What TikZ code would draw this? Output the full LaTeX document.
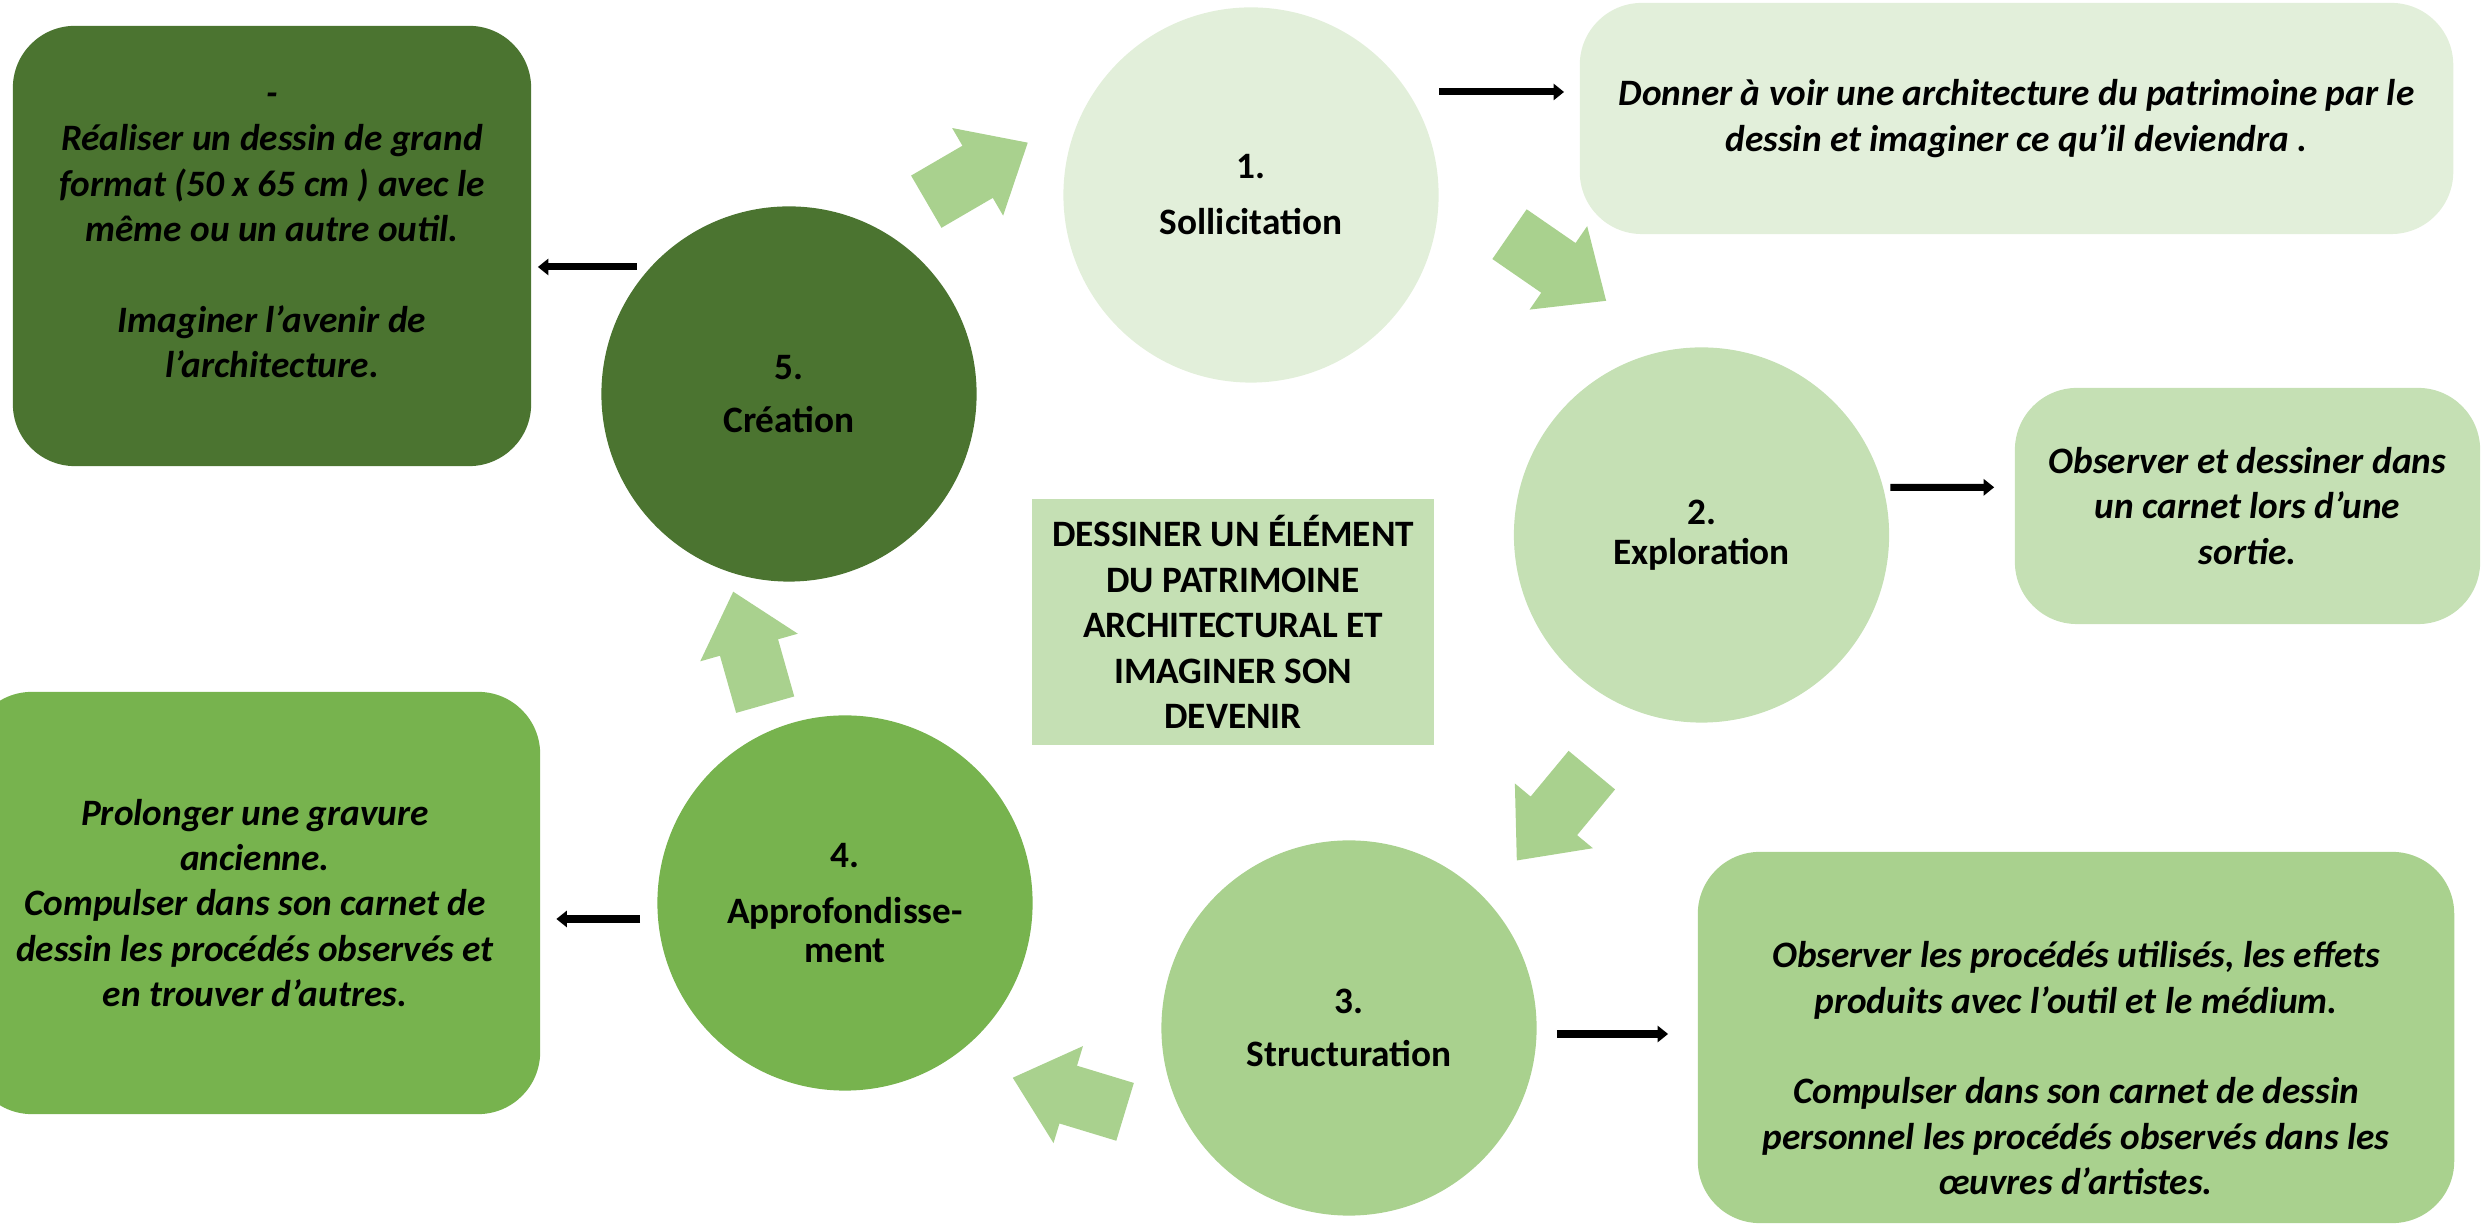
\documentclass[tikz,border=0pt]{standalone}
\usepackage{fontspec}
\setmainfont{Carlito}
\usepackage{tikz}
\usetikzlibrary{arrows.meta}
\definecolor{stepOne}{RGB}{226,239,218}
\definecolor{stepTwo}{RGB}{197,224,180}
\definecolor{stepThree}{RGB}{169,209,142}
\definecolor{stepFour}{RGB}{119,179,78}
\definecolor{stepFive}{RGB}{75,116,48}

\begin{document}
\begin{tikzpicture}[x=0.01cm, y=0.01cm,
        font=\fontsize{10.6}{12.9}\selectfont\bfseries]
        \tikzstyle{stepStyle} = [circle, minimum size=3.75cm, inner sep=0pt, align=center]
        \tikzstyle{boxStyle} = [rectangle, rounded corners=0.62cm, inner sep=0pt, align=center,
            font=\fontsize{10.6}{12.9}\selectfont\bfseries\itshape]
        \tikzstyle{flowArrow} = [fill=stepThree]
        \tikzstyle{blackEdge} = [draw=black, line width=2pt, -{Triangle[length=3pt,width=4.6pt]}]
        \useasboundingbox (0,0) rectangle (2483,1225);

        \node[stepStyle, fill=stepOne] (1) at (1251,1030) {1.\\[3pt] Sollicitation};
        \node[stepStyle, fill=stepTwo] (2) at (1701.5,690) {2.\\[-1.6pt] Exploration};
        \node[stepStyle, fill=stepThree] (3) at (1349,197) {3.\\[2.2pt] Structuration};
        \node[stepStyle, fill=stepFour] (4) at (845,322) {4.\\[3pt] Approfondisse-\\[-1.6pt] ment};
        \node[stepStyle, fill=stepFive] (5) at (789,831) {5.\\[2.4pt] Création};

        \node[boxStyle, fill=stepOne, minimum width=8.73cm, minimum height=2.31cm] (box1) at (2016.5,1106.5)
            {Donner à voir une architecture du patrimoine par le\\ dessin et imaginer ce qu’il deviendra .};
        \node[boxStyle, fill=stepTwo, minimum width=4.65cm, minimum height=2.36cm] (box2) at (2247.5,719)
            {Observer et dessiner dans\\ un carnet lors d’une\\ sortie.};
        \node[boxStyle, fill=stepThree, minimum width=7.56cm, minimum height=3.71cm] (box3) at (2076,187.5)
            {\strut\\[3pt] Observer les procédés utilisés, les effets\\ produits  avec l’outil et le médium.\\[12.9pt]
             Compulser dans son carnet de dessin\\ personnel les procédés observés dans les\\ œuvres d’artistes.};
        \node[boxStyle, fill=stepFour, minimum width=5.7cm, minimum height=4.22cm] (box4) at (255,322)
            {Prolonger une gravure\\ ancienne.\\ Compulser dans son carnet de\\ dessin les procédés observés  et\\ en trouver d’autres.};
        \node[boxStyle, fill=stepFive, minimum width=5.18cm, minimum height=4.4cm] (box5) at (272,979)
            {-\\ Réaliser un dessin de grand\\ format  (50 x 65 cm ) avec le\\ même ou un autre outil.\\[12.9pt]
             Imaginer l’avenir  de\\ l’architecture.\\[-6.8pt] \mbox{}};
        \node[fill=stepTwo, minimum width=4.02cm, minimum height=2.46cm, inner sep=0pt, align=center] (goal) at (1233,603)
            {DESSINER UN ÉLÉMENT\\ DU PATRIMOINE\\ ARCHITECTURAL ET\\ IMAGINER SON\\ DEVENIR};

        \foreach \x/\y/\a in {977/1052.8/30.2, 1557.8/957.5/-34.6, 1554.3/409.7/230.3,
                              1068.9/130.2/163.1, 749.2/576.8/105.8}
            \fill[flowArrow, shift={(\x,\y)}, rotate=\a] (-58.7,-30.2) -- (0.7,-30.2) -- (0.7,-50.7)
                -- (58.7,0) -- (0.7,50.7) -- (0.7,30.2) -- (-58.7,30.2) -- cycle;

        \draw[blackEdge] ([shift={(0,103)}]1.east) -- ([shift={(-15,26.5)}]box1.west);
        \draw[blackEdge] ([shift={(0.5,47.5)}]2.east) -- ([shift={(-20,18.7)}]box2.west);
        \draw[blackEdge] ([shift={(19.5,-6)}]3.east) -- ([shift={(-29,3.5)}]box3.west);
        \draw[blackEdge] ([shift={(-16.5,-16)}]4.west) -- ([shift={(15.5,-16)}]box4.east);
        \draw[blackEdge] ([shift={(36,127)}]5.west) -- ([shift={(6,-21)}]box5.east);
    \end{tikzpicture}
\end{document}
